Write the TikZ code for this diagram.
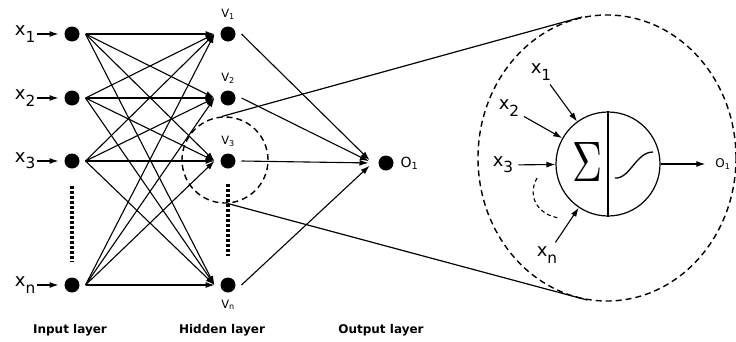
\documentclass[tikz,border=0pt]{standalone}
\usepackage{graphicx}
\usepackage{fontspec}
\setmainfont{DejaVu Sans}
\usepackage{tikz}
\usetikzlibrary{arrows.meta,positioning,shapes.geometric}
\newcommand{\lowidx}[1]{\raisebox{-0.35em}{\scalebox{0.85}{#1}}}

\begin{document}
\begin{tikzpicture}[
  x=1pt, y=-1pt,
  dot/.style={circle, fill=black, inner sep=0pt, minimum size=15pt, outer sep=6pt},
  link/.style={-{Latex[length=9pt,width=6pt]}, line width=1.1pt},
  inlabel/.style={font=\fontsize{18}{18}\selectfont, inner sep=1pt},
  vlabel/.style={font=\fontsize{11.5}{13}\selectfont, inner sep=1pt},
  layer/.style={font=\bfseries\fontsize{12}{14}\selectfont},
  ring/.style={draw, dash pattern=on 6pt off 4pt, line width=1.4pt, inner sep=0pt},
  ellipsis/.style={dash pattern=on 3pt off 2pt, line width=3.5pt}
]
\useasboundingbox (0,0) rectangle (736,341);

% input layer
\node[dot] (i1) at (72,34) {};
\node[dot] (i2) at (72,98) {};
\node[dot] (i3) at (72,161) {};
\node[dot] (in) at (72,285) {};
\node[inlabel, left=22pt of i1] (x1) {x\lowidx{1}};
\node[inlabel, left=22pt of i2] (x2) {x\lowidx{2}};
\node[inlabel, left=22pt of i3] (x3) {x\lowidx{3}};
\node[inlabel, left=22pt of in] (xn) {x\lowidx{n}};
\draw[link] (x1) -- (i1);
\draw[link] (x2) -- (i2);
\draw[link] (x3) -- (i3);
\draw[link] (xn) -- (in);
\draw[ellipsis, shorten <=11pt, shorten >=10pt] (i3) -- (in);

% hidden layer
\node[dot] (h1) at (228,34) {};
\node[dot] (h2) at (228,98) {};
\node[dot] (h3) at (228,161) {};
\node[dot] (hn) at (228,285) {};
\node[vlabel, above=0pt of h1] (v1) {V\textsubscript{1}};
\node[vlabel, above=0pt of h2] (v2) {V\textsubscript{2}};
\node[vlabel, above=0pt of h3] (v3) {V\textsubscript{3}};
\node[vlabel, below=0pt of hn] (vn) {V\textsubscript{n}};
\draw[ellipsis, shorten <=9pt, shorten >=16pt] (h3) -- (hn);

% output layer
\node[dot] (o) at (386,163) {};
\node[inner sep=1pt, font=\fontsize{14}{15}\selectfont, right=0pt of o] (o1) {O\textsubscript{1}};

% input -> hidden
\draw[link] (i1.east) -- (h1.west);
\draw[link] (i1.east) -- (h2.west);
\draw[link] (i1.east) -- (h3.west);
\draw[link] (i1.east) -- (hn.west);
\draw[link] (i2.east) -- (h1.west);
\draw[link] (i2.east) -- (h2.west);
\draw[link] (i2.east) -- (h3.west);
\draw[link] (i2.east) -- (hn.west);
\draw[link] (i3.east) -- (h1.west);
\draw[link] (i3.east) -- (h2.west);
\draw[link] (i3.east) -- (h3.west);
\draw[link] (i3.east) -- (hn.west);
\draw[link] (in.east) -- (h1.west);
\draw[link] (in.east) -- (h2.west);
\draw[link] (in.east) -- (h3.west);
\draw[link] (in.east) -- (hn.west);

% hidden -> output
\draw[link, shorten >=4pt] (h1.east) -- (o.west);
\draw[link, shorten >=4pt] (h2.east) -- (o.west);
\draw[link, shorten >=4pt] (h3.east) -- (o.west);
\draw[link, shorten >=4pt] (hn.east) -- (o.west);

% zoom onto one neuron
\node[ring, circle, minimum size=86pt] (zoom) at (225,160) {};
\node[ring, ellipse, minimum width=258pt, minimum height=286pt] (detail) at (607,158) {};
\draw[line width=1.2pt] (zoom.94) -- (detail.100);
\draw[line width=1.2pt] (zoom.274) -- (detail.262);

% neuron detail
\node[circle, draw, line width=1.2pt, minimum size=104pt] (neuron) at (608,164) {};
\draw[line width=1.1pt] (neuron.north) -- (neuron.south);
\node (sum) at (587,162) {\resizebox{30pt}{39pt}{$\Sigma$}};
\draw[line width=1.3pt] (615,178) .. controls (630,179) and (636,152) .. (653,152);
\node[inlabel] (d1) at (541,72) {x\lowidx{1}};
\node[inlabel] (d2) at (509,108) {x\lowidx{2}};
\node[inlabel] (d3) at (503,165) {x\lowidx{3}};
\node[inlabel] (dn) at (547,255) {x\lowidx{n}};
\draw[link, shorten <=4pt] (d1) -- (neuron);
\draw[link, shorten <=4pt] (d2) -- (neuron);
\draw[link, shorten <=4pt] (d3) -- (neuron);
\draw[link, shorten <=4pt] (dn) -- (neuron);
\draw[dash pattern=on 4pt off 3pt, line width=1.1pt] (537,178) .. controls (526,198) and (540,216) .. (560,218);
\node[inner sep=1pt, font=\fontsize{12}{13}\selectfont] (dout) at (723,164) {O\textsubscript{1}};
\draw[link, shorten >=9pt] (neuron) -- (dout);

% layer names
\node[layer] (ilayer) at (70,330) {Input layer};
\node[layer] (hlayer) at (222,330) {Hidden layer};
\node[layer] (olayer) at (381,330) {Output layer};
\end{tikzpicture}
\end{document}
